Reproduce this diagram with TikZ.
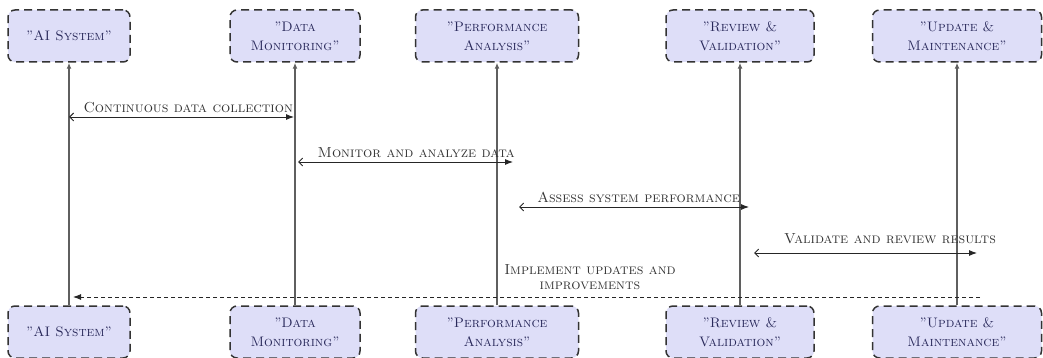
\documentclass[tikz,border=0pt]{standalone}
\usepackage{fontspec}
\usetikzlibrary{arrows.meta}
\definecolor{boxfill}{RGB}{222,222,248}
\definecolor{boxtext}{RGB}{40,40,90}
\definecolor{msgtext}{RGB}{51,51,51}
\definecolor{lifegray}{RGB}{95,95,95}
\begin{document}
\begin{tikzpicture}[x=1pt,y=-1pt]

      \tikzset{actor/.style={draw=black!80, fill=boxfill, rounded corners=7pt, dash pattern=on 8pt off 5pt, line width=1.5pt, minimum height=52pt, inner sep=2pt, align=center, text=boxtext, font=\scshape\fontsize{13.8}{19}\selectfont},
               msg/.style={{Straight Barb[length=4pt,width=8pt]}-{Latex[length=8pt,width=6pt]}, line width=0.9pt, black!85},
               msglabel/.style={font=\scshape\fontsize{14.5}{15}\selectfont, text=msgtext, inner sep=4pt}}
      \useasboundingbox (0,0) rectangle (1043,358);
%% Actors, top
      	\node[actor, minimum width=122pt] (t1) at (69,36) {"AI System"};
      	\node[actor, minimum width=130pt] (t2) at (295,36) {"Data\\Monitoring"};
      	\node[actor, minimum width=163pt] (t3) at (497,36) {"Performance\\Analysis"};
      	\node[actor, minimum width=148pt] (t4) at (740,36) {"Review \&\\Validation"};
      	\node[actor, minimum width=169pt] (t5) at (957,36) {"Update \&\\Maintenance"};
%% Actors, bottom
      	\node[actor, minimum width=122pt] (b1) at (69,332) {"AI System"};
      	\node[actor, minimum width=130pt] (b2) at (295,332) {"Data\\Monitoring"};
      	\node[actor, minimum width=163pt] (b3) at (497,332) {"Performance\\Analysis"};
      	\node[actor, minimum width=148pt] (b4) at (740,332) {"Review \&\\Validation"};
      	\node[actor, minimum width=169pt] (b5) at (957,332) {"Update \&\\Maintenance"};
%Lifelines
		\path [-{Latex[length=6pt,width=5pt]}, lifegray, line width=1.3pt] (b1) edge (t1);
		\path [-{Latex[length=6pt,width=5pt]}, lifegray, line width=1.3pt] (b2) edge (t2);
		\path [-{Latex[length=6pt,width=5pt]}, lifegray, line width=1.3pt] (b3) edge (t3);
		\path [-{Latex[length=6pt,width=5pt]}, lifegray, line width=1.3pt] (b4) edge (t4);
		\path [-{Latex[length=6pt,width=5pt]}, lifegray, line width=1.3pt] (b5) edge (t5);
%Messages
		\coordinate (m1s) at (69,117);  \coordinate (m1e) at (294,117);
		\coordinate (m2s) at (298,162); \coordinate (m2e) at (513,162);
		\coordinate (m3s) at (519,207); \coordinate (m3e) at (749,207);
		\coordinate (m4s) at (754,253); \coordinate (m4e) at (977,253);
		\coordinate (m5s) at (980,297); \coordinate (m5e) at (73,297);
		\path [msg] (m1s) edge node[msglabel, pos=.53, above] {Continuous data collection} (m1e);
		\path [msg] (m2s) edge node[msglabel, pos=.55, above] {Monitor and analyze data} (m2e);
		\path [msg] (m3s) edge node[msglabel, pos=.52, above] {Assess system performance} (m3e);
		\path [msg] (m4s) edge node[msglabel, pos=.61, above, yshift=5pt] {Validate and review results} (m4e);
		\path [-{Latex[length=8pt,width=6pt]}, black!85, line width=0.9pt, dash pattern=on 4pt off 3pt] (m5s) edge node[msglabel, pos=.43, above, align=center, yshift=3pt] {Implement updates and\\improvements} (m5e);

	\end{tikzpicture}
\end{document}
